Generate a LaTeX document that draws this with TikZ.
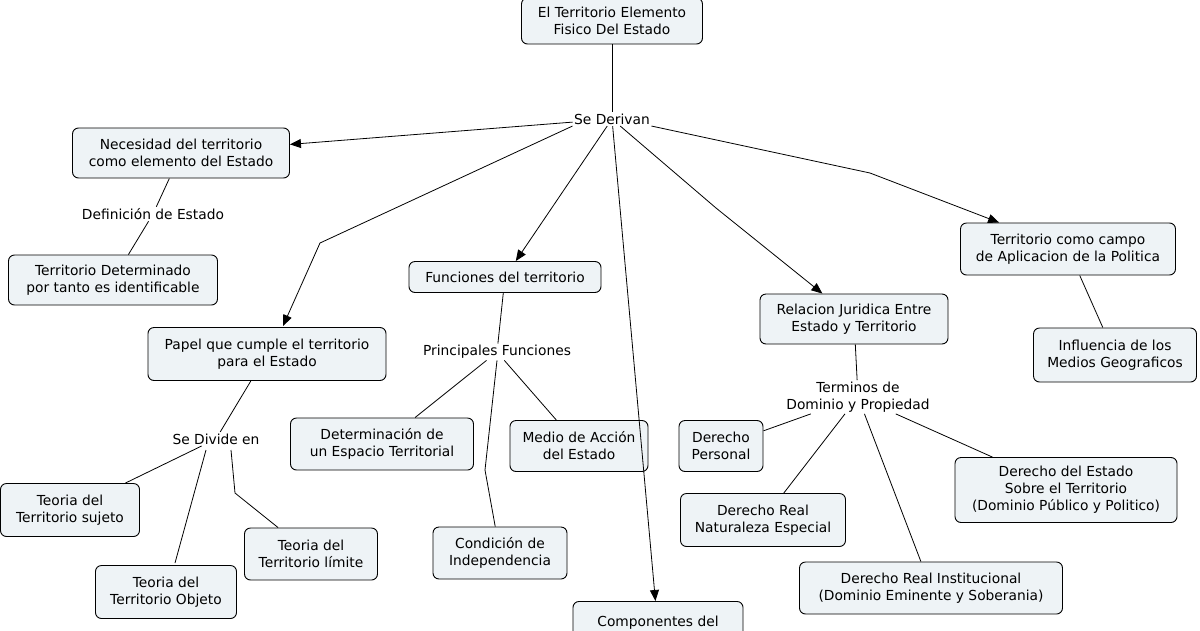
\documentclass[tikz,border=0pt]{standalone}
\usepackage{fontspec}
\setmainfont{DejaVu Sans}
\usetikzlibrary{arrows.meta}
\definecolor{boxfill}{HTML}{EEF3F6}
\begin{document}
\begin{tikzpicture}[x=1pt,y=-1pt,
  box/.style={draw=black,fill=boxfill,rounded corners=6pt,line width=0.9pt,align=center,font=\fontsize{13.8}{17}\selectfont,inner sep=0pt},
  lab/.style={align=center,font=\fontsize{13.8}{17}\selectfont,inner sep=1.5pt},
  ln/.style={line width=0.8pt},
  ar/.style={ln,-{Triangle[length=11pt,width=9pt]}}]
\useasboundingbox (0,0) rectangle (1200,630);
\node[box,minimum width=181pt,minimum height=46pt] (top) at (612,21) {El Territorio Elemento\\Fisico Del Estado};
\node[lab] (der) at (612,119) {Se Derivan};
\node[box,minimum width=217pt,minimum height=50pt] (nec) at (181,153) {Necesidad del territorio\\como elemento del Estado};
\node[lab] (def) at (153,214) {Definición de Estado};
\node[box,minimum width=209pt,minimum height=50pt] (tdet) at (113,280) {Territorio Determinado\\por tanto es identificable};
\node[box,minimum width=238pt,minimum height=53pt] (pap) at (267,354) {Papel que cumple el territorio\\para el Estado};
\node[box,minimum width=192pt,minimum height=31pt] (fun) at (505,277) {Funciones del territorio};
\node[lab] (pri) at (497,352) {Principales Funciones};
\node[box,minimum width=183pt,minimum height=52pt] (det) at (382,444) {Determinación de\\un Espacio Territorial};
\node[box,minimum width=138pt,minimum height=51pt] (med) at (579,446) {Medio de Acción\\del Estado};
\node[box,minimum width=134pt,minimum height=52pt] (con) at (500,553) {Condición de\\Independencia};
\node[box,minimum width=170pt,minimum height=56pt,anchor=north] (com) at (658,601) {Componentes del\\Territorio del Estado};
\node[box,minimum width=188pt,minimum height=50pt] (rel) at (854,319) {Relacion Juridica Entre\\Estado y Territorio};
\node[lab] (ter) at (858,397) {Terminos de\\Dominio y Propiedad};
\node[box,minimum width=215pt,minimum height=52pt] (tca) at (1068,249) {Territorio como campo\\de Aplicacion de la Politica};
\node[box,minimum width=163pt,minimum height=54pt] (inf) at (1115,355) {Influencia de los\\Medios Geograficos};
\node[box,minimum width=84pt,minimum height=51pt] (dper) at (721,446) {Derecho\\Personal};
\node[box,minimum width=165pt,minimum height=53pt] (drn) at (763,520) {Derecho Real\\Naturaleza Especial};
\node[box,minimum width=263pt,minimum height=52pt] (dri) at (931,588) {Derecho Real Institucional\\(Dominio Eminente y Soberania)};
\node[box,minimum width=222pt,minimum height=65pt] (des) at (1066,490) {Derecho del Estado\\Sobre el Territorio\\(Dominio Público y Politico)};
\node[lab] (div) at (216,439) {Se Divide en};
\node[box,minimum width=139pt,minimum height=53pt] (tsu) at (70,510) {Teoria del\\Territorio sujeto};
\node[box,minimum width=133pt,minimum height=52pt] (tli) at (311,554) {Teoria del\\Territorio límite};
\node[box,minimum width=141pt,minimum height=53pt] (tob) at (166,592) {Teoria del\\Territorio Objeto};
\coordinate (divo) at (206,450);
\coordinate (divl) at (231,450);
% connectors
\draw[ln] (top) -- (der);
\draw[ar] (der) -- (nec);
\draw[ar] (der.south west) -- (320,243) -- (283,326);
\draw[ar] (der) -- (fun);
\draw[ar] (der) -- (com);
\draw[ar] (der) -- (716,208) -- (rel);
\draw[ar] (der.south east) -- (870,173) -- (tca);
\draw[ln] (nec) -- (def); \draw[ln] (def) -- (tdet);
\draw[ln] (pap) -- (div);
\draw[ln] (div) -- (tsu);
\draw[ln] (divo) -- (175,563);
\draw[ln] (divl) -- (235,493) -- (tli);
\draw[ln] (fun) -- (pri);
\draw[ln] (pri) -- (det);
\draw[ln] (pri) -- (med);
\draw[ln] (pri.south) -- (485,470) -- (con);
\draw[ln] (rel) -- (ter);
\draw[ln] (ter) -- (dper);
\draw[ln] (ter) -- (drn);
\draw[ln] (ter) -- (dri);
\draw[ln] (ter) -- (des);
\draw[ln] (tca) -- (inf);
\end{tikzpicture}
\end{document}
